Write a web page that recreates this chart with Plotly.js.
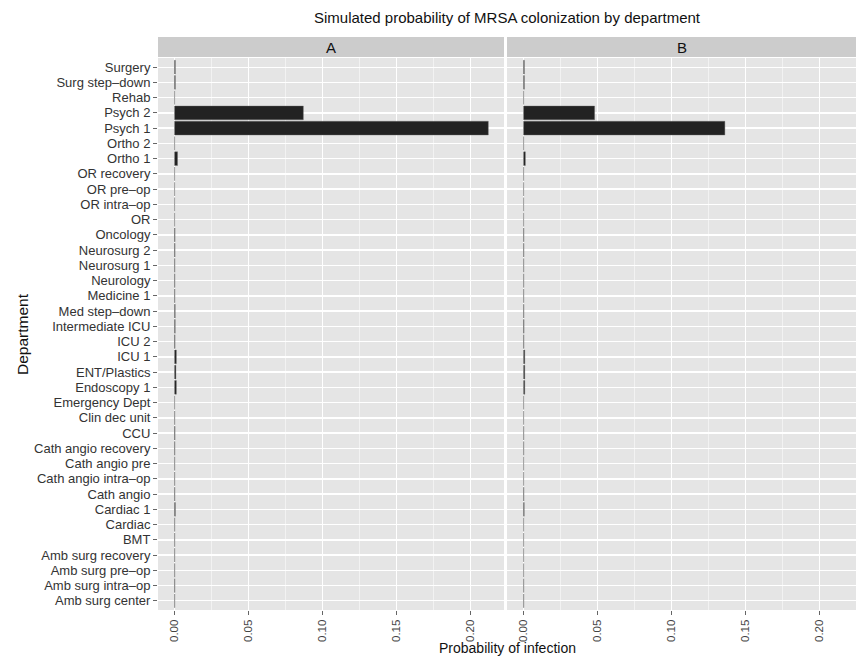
<!DOCTYPE html>
<html>
<head>
<meta charset="utf-8">
<script src="https://cdn.plot.ly/plotly-3.0.1.min.js"></script>
<style>
  html, body { margin: 0; padding: 0; background: #ffffff; }
  #chart { width: 856px; height: 658px; }
</style>
</head>
<body>
<div id="chart"></div>
<script>
// Departments, bottom to top as drawn
const departments = [
  "Amb surg center", "Amb surg intra\u2013op", "Amb surg pre\u2013op", "Amb surg recovery",
  "BMT", "Cardiac", "Cardiac 1", "Cath angio", "Cath angio intra\u2013op", "Cath angio pre",
  "Cath angio recovery", "CCU", "Clin dec unit", "Emergency Dept", "Endoscopy 1",
  "ENT/Plastics", "ICU 1", "ICU 2", "Intermediate ICU", "Med step\u2013down", "Medicine 1",
  "Neurology", "Neurosurg 1", "Neurosurg 2", "Oncology", "OR", "OR intra\u2013op",
  "OR pre\u2013op", "OR recovery", "Ortho 1", "Ortho 2", "Psych 1", "Psych 2", "Rehab",
  "Surg step\u2013down", "Surgery"
];

// Probability of infection, facet A
const probA = [
  0.0001, 0.0002, 0.0001, 0.0001,
  0.0001, 0.0001, 0.0005, 0.0002, 0.0001, 0.0001,
  0.0002, 0.0003, 0.0001, 0, 0.0012,
  0.0009, 0.0012, 0.0003, 0.0004, 0.0004, 0.0002,
  0.0002, 0.0002, 0.0003, 0.0003, 0, 0,
  0, 0, 0.0020, 0, 0.212, 0.087, 0,
  0.0005, 0.0005
];

// Probability of infection, facet B
const probB = [
  0.0001, 0.0001, 0, 0,
  0, 0, 0.0004, 0.0002, 0, 0,
  0.0001, 0.0001, 0, 0, 0.0008,
  0.0008, 0.0008, 0.0002, 0.0003, 0.0002, 0.0001,
  0.0001, 0.0001, 0.0002, 0.0002, 0, 0,
  0, 0, 0.0012, 0, 0.136, 0.048, 0,
  0.0005, 0.0005
];

const facetLabels = ["A", "B"];
const xTickVals = [0, 0.05, 0.10, 0.15, 0.20];
const xTickText = ["0.00", "0.05", "0.10", "0.15", "0.20"];

const FONT = "Liberation Sans, Arial, Helvetica, sans-serif";
const barStyle = { color: "#222222", line: { color: "#6a6a6a", width: 0.4 } };

const traces = [
  { type: "bar", orientation: "h", y: departments, x: probA, xaxis: "x", yaxis: "y",
    marker: barStyle, width: 0.9, hoverinfo: "x+y", showlegend: false },
  { type: "bar", orientation: "h", y: departments, x: probB, xaxis: "x2", yaxis: "y",
    marker: barStyle, width: 0.9, hoverinfo: "x+y", showlegend: false }
];

function xAxis(domain, range) {
  return {
    domain: domain, range: range, anchor: "y",
    tickmode: "array", tickvals: xTickVals, ticktext: xTickText, tickangle: -90,
    ticks: "outside", ticklen: 4, tickcolor: "#666", tickwidth: 1,
    tickfont: { family: FONT, size: 11.5, color: "#444" },
    showgrid: true, gridcolor: "#ffffff", gridwidth: 1.3,
    minor: { tickvals: [0.025, 0.075, 0.125, 0.175, 0.225], showgrid: true, gridcolor: "#f2f2f2", gridwidth: 1 },
    zeroline: false, showline: false, fixedrange: true
  };
}

const stripY0 = 1 + 1 / 552, stripY1 = 1 + 21 / 552;
const domA = [0, 346 / 698], domB = [349 / 698, 1];

const layout = {
  width: 856, height: 658,
  margin: { l: 158, r: 0, t: 58, b: 48 },
  paper_bgcolor: "#ffffff", plot_bgcolor: "#e5e5e5",
  font: { family: FONT, color: "#000" },
  bargap: 0.1,
  title: { text: "Simulated probability of MRSA colonization by department",
    x: 0.5, xref: "paper", xanchor: "center", y: 1 - 18 / 658, yref: "container", yanchor: "middle",
    font: { family: FONT, size: 15, color: "#111" } },
  xaxis: xAxis(domA, [-0.0112, 0.2226]),
  xaxis2: xAxis(domB, [-0.0112, 0.2246]),
  yaxis: {
    type: "category", categoryorder: "array", categoryarray: departments,
    range: [-0.6, departments.length - 0.4],
    tickmode: "array", tickvals: departments, ticktext: departments,
    ticks: "outside", ticklen: 4, tickcolor: "#666", tickwidth: 1,
    tickfont: { family: FONT, size: 13, color: "#333" },
    showgrid: true, gridcolor: "#ffffff", gridwidth: 1.3,
    zeroline: false, showline: false, fixedrange: true, automargin: false
  },
  shapes: [
    { type: "rect", xref: "paper", yref: "paper", x0: domA[0], x1: domA[1], y0: stripY0, y1: stripY1,
      fillcolor: "#cccccc", line: { width: 0 } },
    { type: "rect", xref: "paper", yref: "paper", x0: domB[0], x1: domB[1], y0: stripY0, y1: stripY1,
      fillcolor: "#cccccc", line: { width: 0 } }
  ],
  annotations: [
    { text: facetLabels[0], xref: "paper", yref: "paper", x: (domA[0] + domA[1]) / 2, y: (stripY0 + stripY1) / 2,
      xanchor: "center", yanchor: "middle", showarrow: false, font: { family: FONT, size: 15, color: "#111" } },
    { text: facetLabels[1], xref: "paper", yref: "paper", x: (domB[0] + domB[1]) / 2, y: (stripY0 + stripY1) / 2,
      xanchor: "center", yanchor: "middle", showarrow: false, font: { family: FONT, size: 15, color: "#111" } },
    { text: "Probability of infection", xref: "paper", yref: "paper", x: 0.5, y: -(648 - 610) / 552,
      xanchor: "center", yanchor: "middle", showarrow: false, font: { family: FONT, size: 14, color: "#111" } },
    { text: "Department", xref: "paper", yref: "paper", x: (22 - 158) / 698, y: 0.5, textangle: -90,
      xanchor: "center", yanchor: "middle", showarrow: false, font: { family: FONT, size: 15.5, color: "#111" } }
  ]
};

Plotly.newPlot("chart", traces, layout, { displayModeBar: false, staticPlot: true });
</script>
</body>
</html>
